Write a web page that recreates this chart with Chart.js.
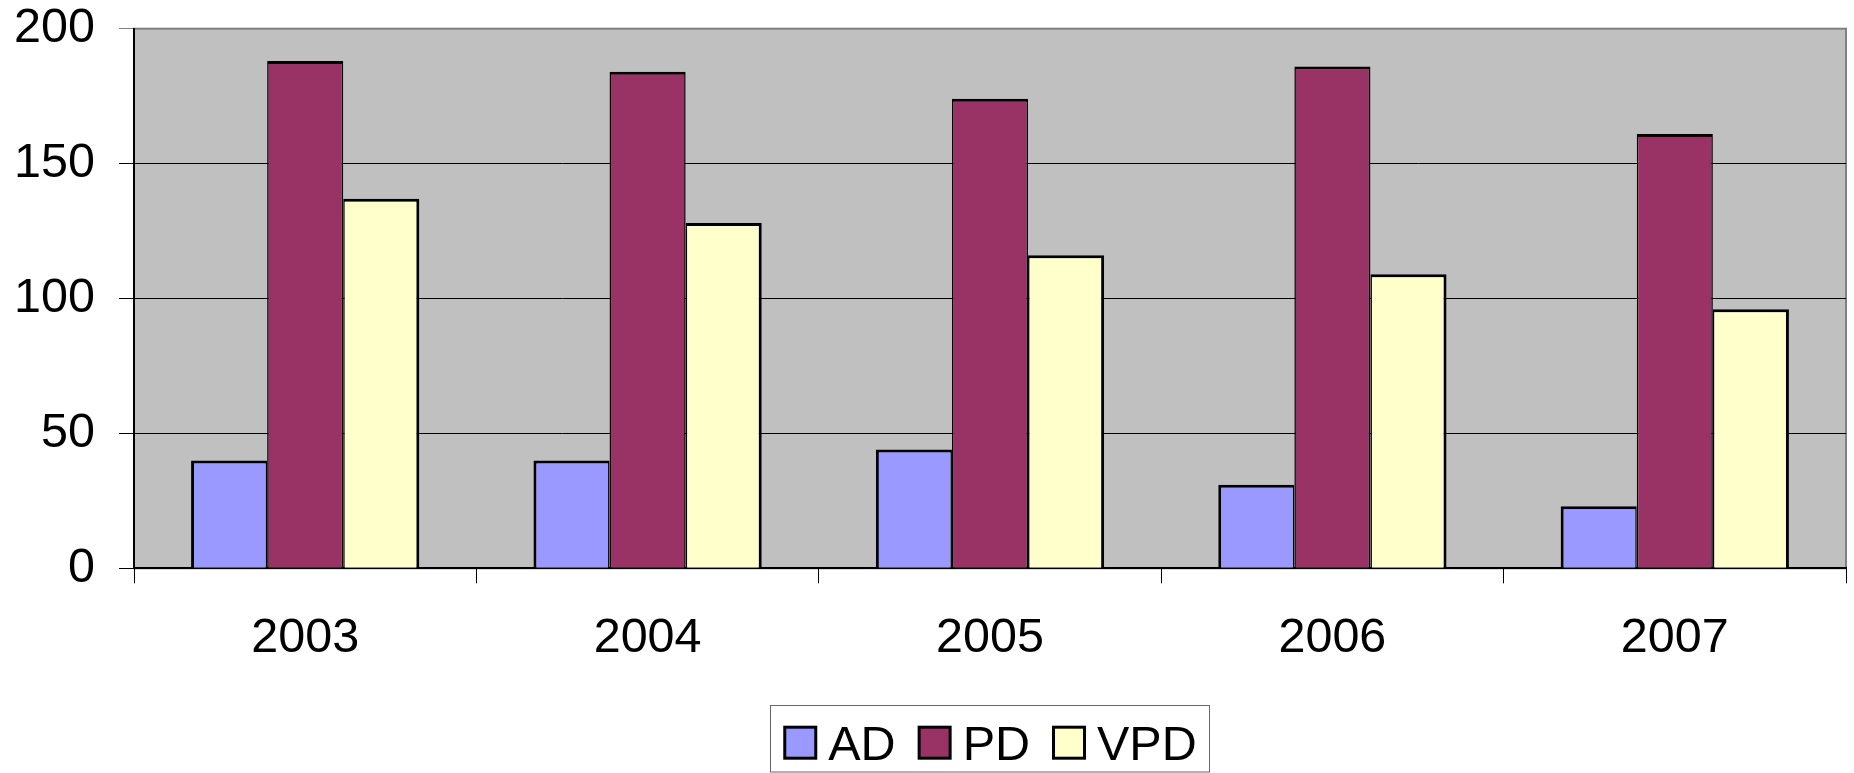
<!DOCTYPE html>
<html>
<head>
<meta charset="utf-8">
<script src="https://cdn.jsdelivr.net/npm/chart.js@4.4.1/dist/chart.umd.min.js"></script>
<style>
  html, body { margin: 0; padding: 0; background: #ffffff; }
  #wrap { width: 1854px; height: 773px; }
</style>
</head>
<body>
<div id="wrap"><canvas id="c" width="1854" height="773"></canvas></div>
<script>
const categories = ['2003', '2004', '2005', '2006', '2007'];
const seriesNames = ['AD', 'PD', 'VPD'];
const adValues = [40, 40, 44, 31, 23];
const pdValues = [188, 184, 174, 186, 161];
const vpdValues = [137, 128, 116, 109, 96];
const yTicks = [0, 50, 100, 150, 200];

const colors = ['#9999FF', '#993366', '#FFFFCC'];
const FONT = "'Liberation Sans', Arial, sans-serif";
const FS = 48.5;

const plotBg = {
  id: 'plotBg',
  beforeDraw(chart) {
    const { ctx, chartArea: a } = chart;
    ctx.save();
    ctx.fillStyle = '#C0C0C0';
    ctx.fillRect(a.left, a.top, a.right - a.left, a.bottom - a.top);
    ctx.strokeStyle = '#808080';
    ctx.lineWidth = 2;
    ctx.strokeRect(a.left, a.top, a.right - a.left, a.bottom - a.top);
    ctx.restore();
  }
};

const boxLegend = {
  id: 'boxLegend',
  afterDraw(chart) {
    const { ctx, chartArea: a } = chart;
    ctx.save();
    ctx.font = FS + 'px ' + FONT;
    const sw = 34, gapText = 11, gapItem = 22, padX = 13;
    const items = chart.data.datasets.map(d => ({ label: d.label, color: d.backgroundColor, w: ctx.measureText(d.label).width }));
    let total = 0;
    items.forEach((it, i) => { total += sw + gapText + it.w + (i < items.length - 1 ? gapItem : 0); });
    const boxW = total + padX * 2;
    const cx = (a.left + a.right) / 2;
    const boxL = cx - boxW / 2;
    const boxT = 705.5;
    ctx.strokeStyle = '#666666';
    ctx.lineWidth = 1;
    ctx.strokeRect(Math.round(boxL) + 0.5, boxT, Math.round(boxW), 772 - boxT);
    let x = boxL + padX;
    const swTop = 725.7;
    items.forEach(it => {
      ctx.fillStyle = it.color;
      ctx.fillRect(x + 1.5, swTop + 1.5, sw - 3, sw - 3);
      ctx.strokeStyle = '#000';
      ctx.lineWidth = 3;
      ctx.strokeRect(x + 1.5, swTop + 1.5, sw - 3, sw - 3);
      ctx.fillStyle = '#000';
      ctx.textBaseline = 'alphabetic';
      ctx.textAlign = 'left';
      ctx.fillText(it.label, x + sw + gapText, 760);
      x += sw + gapText + it.w + gapItem;
    });
    ctx.restore();
  }
};

const borderFor = [
  { left: 3, right: 1.5, top: 3, bottom: 0 },
  { left: 1.5, right: 1.5, top: 3, bottom: 0 },
  { left: 1.5, right: 3, top: 3, bottom: 0 }
];
const seriesValues = [adValues, pdValues, vpdValues];

new Chart(document.getElementById('c'), {
  type: 'bar',
  data: {
    labels: categories,
    datasets: seriesNames.map((name, i) => ({
      label: name,
      data: seriesValues[i],
      backgroundColor: colors[i],
      borderColor: '#000000',
      borderWidth: borderFor[i],
      borderSkipped: false,
      categoryPercentage: 3 / 4.5,
      barPercentage: 1.0
    }))
  },
  options: {
    responsive: false,
    animation: false,
    devicePixelRatio: 1,
    layout: { padding: { top: 28.7, right: 8, left: 0, bottom: 0 } },
    plugins: {
      legend: { display: false },
      tooltip: { enabled: false },
      title: { display: false }
    },
    scales: {
      x: {
        offset: true,
        grid: {
          offset: true,
          drawOnChartArea: false,
          drawTicks: true,
          tickLength: 15,
          color: '#000000',
          lineWidth: 1
        },
        border: { display: true, color: '#000000', width: 2 },
        ticks: {
          color: '#000000',
          font: { family: FONT, size: FS },
          padding: 26,
          maxRotation: 0,
          autoSkip: false
        },
        afterFit(scale) {
          scale.height = 773 - 568.3;
          scale.paddingLeft = 0; scale.paddingRight = 0;
        }
      },
      y: {
        min: 0,
        max: 200,
        afterBuildTicks(scale) { scale.ticks = yTicks.map(v => ({ value: v })); },
        grid: {
          drawOnChartArea: true,
          drawTicks: true,
          tickLength: 15,
          color: ctx => (ctx.tick && ctx.tick.value === 200) ? '#808080' : '#000000',
          lineWidth: 1
        },
        border: { display: true, color: '#000000', width: 2 },
        ticks: {
          color: '#000000',
          font: { family: FONT, size: FS },
          padding: 24
        },
        afterFit(scale) {
          scale.width = 134;
          scale.paddingTop = 0; scale.paddingBottom = 0;
        }
      }
    }
  },
  plugins: [plotBg, boxLegend]
});
</script>
</body>
</html>
